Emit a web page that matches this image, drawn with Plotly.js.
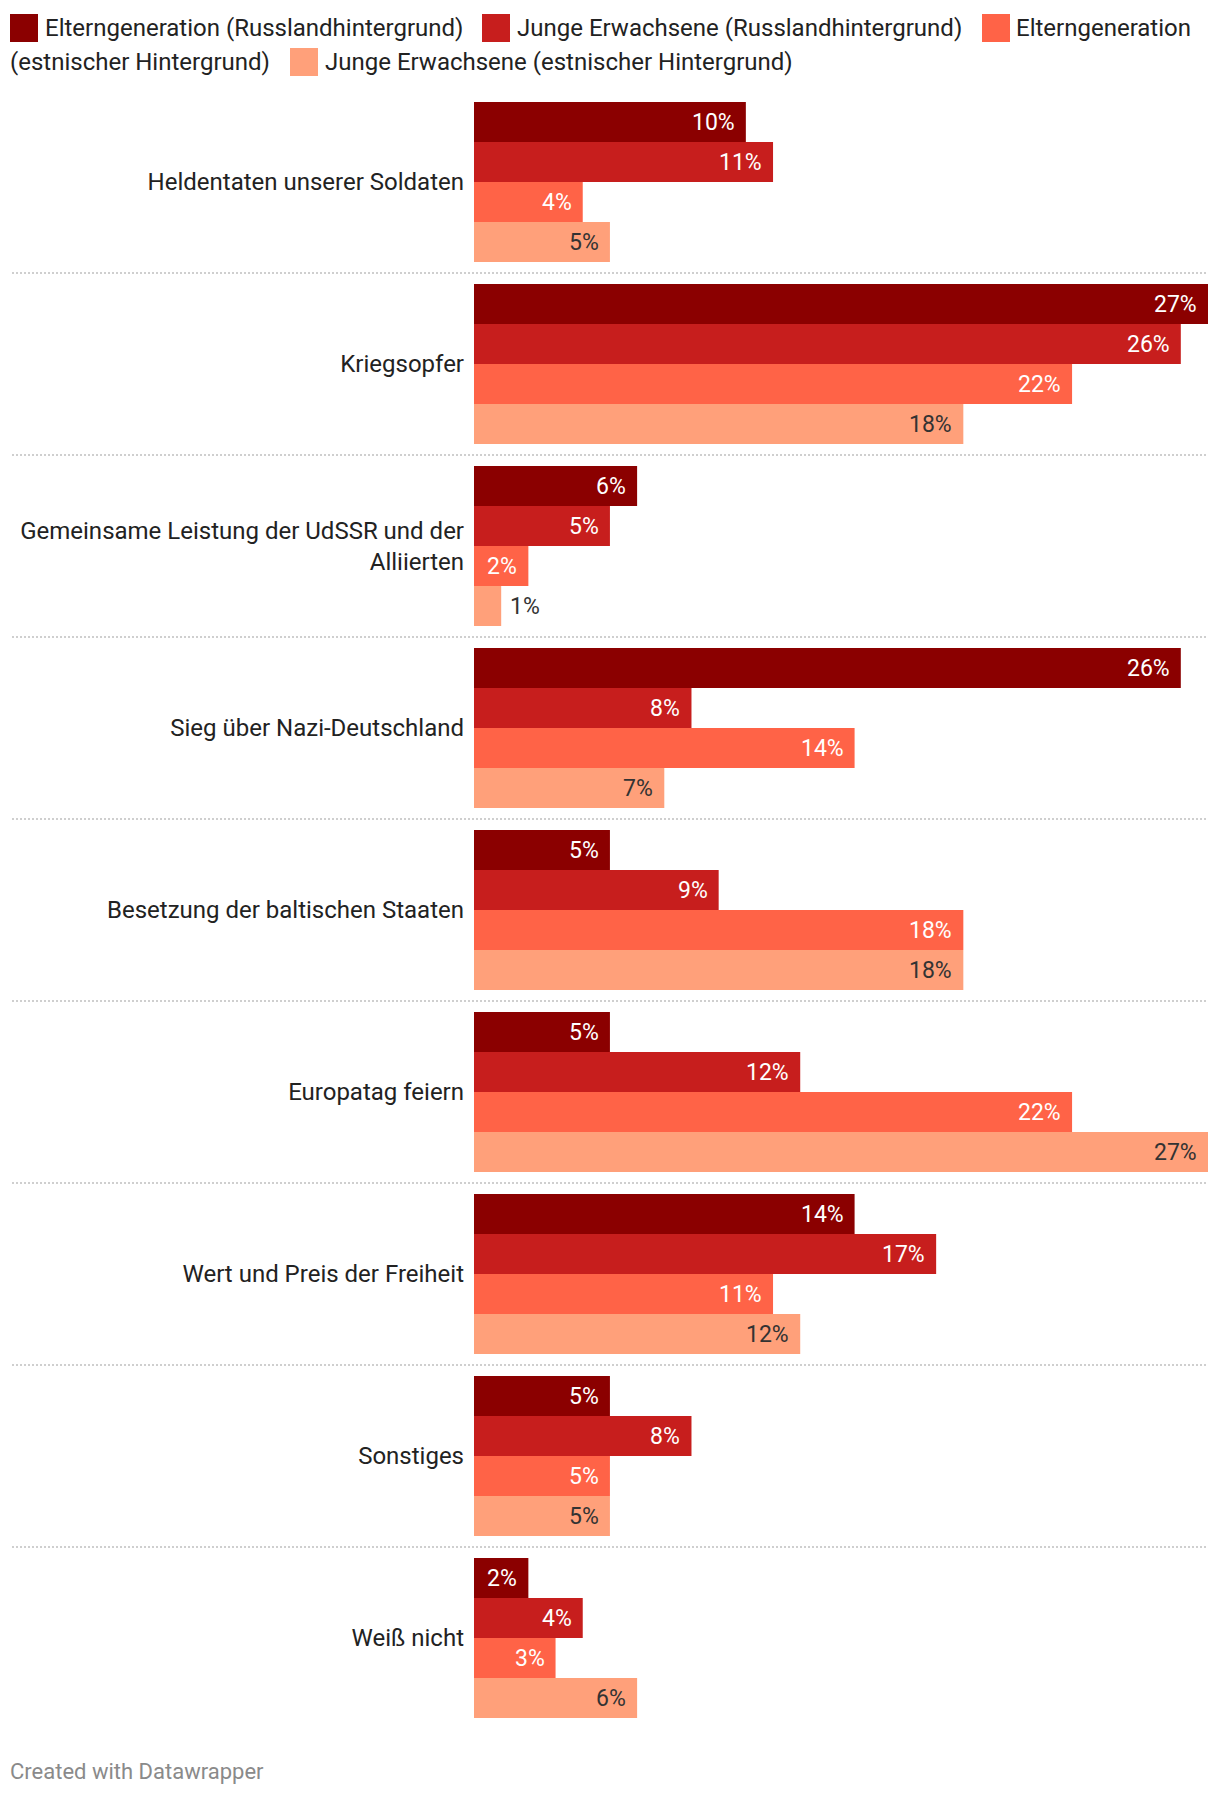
<!DOCTYPE html>
<html>
<head>
<meta charset="utf-8">
<script src="https://cdn.plot.ly/plotly-3.0.1.min.js"></script>
<style>
  html, body { margin: 0; padding: 0; background: #fff; }
  #chart { width: 1220px; height: 1796px; }
</style>
</head>
<body>
<div id="chart"></div>
<script>
// ---------- DATA ----------
const categories = [
  "Heldentaten unserer Soldaten",
  "Kriegsopfer",
  "Gemeinsame Leistung der UdSSR und der<br>Alliierten",
  "Sieg über Nazi-Deutschland",
  "Besetzung der baltischen Staaten",
  "Europatag feiern",
  "Wert und Preis der Freiheit",
  "Sonstiges",
  "Weiß nicht"
];
const seriesNames = [
  "Elterngeneration (Russlandhintergrund)",
  "Junge Erwachsene (Russlandhintergrund)",
  "Elterngeneration (estnischer Hintergrund)",
  "Junge Erwachsene (estnischer Hintergrund)"
];
const parentsRussian = [10, 27, 6, 26, 5, 5, 14, 5, 2];
const youngRussian   = [11, 26, 5, 8, 9, 12, 17, 8, 4];
const parentsEstonian = [4, 22, 2, 14, 18, 22, 11, 5, 3];
const youngEstonian   = [5, 18, 1, 7, 18, 27, 12, 5, 6];
const footerText = "Created with Datawrapper";

// ---------- STYLE ----------
const colors = ["#8b0000", "#c71e1d", "#ff6347", "#ffa07a"];
const labelColors = ["#ffffff", "#ffffff", "#ffffff", "#333333"];
const seriesValues = [parentsRussian, youngRussian, parentsEstonian, youngEstonian];
const FONT = "Roboto, 'Noto Sans', sans-serif";

const W = 1220, H = 1796;
const L = 474, R = 1208, T = 91, B = 1729;
const px2x = p => (p - L) / (R - L);
const px2y = p => (B - p) / (B - T);
const bargap = 22 / 182;
const nS = seriesValues.length;
const barW = (1 - bargap) / nS;
const xMax = 27;
const pxPerUnit = (R - L) / xMax;

const traces = seriesValues.map((vals, s) => ({
  type: "bar",
  orientation: "h",
  name: seriesNames[s],
  x: vals,
  y: categories,
  marker: { color: colors[s], line: { width: 0 } },
  hoverinfo: "none",
  showlegend: false
}));

const annotations = [];
const shapes = [];

// value labels
seriesValues.forEach((vals, s) => {
  vals.forEach((v, c) => {
    const yPos = c + barW * (s - (nS - 1) / 2);
    const text = v + "%";
    const estW = text.length * 12 + 6;
    const inside = v * pxPerUnit > estW + 20;
    annotations.push({
      x: v, y: yPos, xref: "x", yref: "y",
      text: text,
      showarrow: false,
      xanchor: inside ? "right" : "left",
      yanchor: "middle",
      xshift: inside ? -11 : 9,
      borderpad: 0, borderwidth: 0,
      font: { family: FONT, size: 23, color: inside ? labelColors[s] : "#333333" }
    });
  });
});

// separators
for (let i = 0; i < categories.length - 1; i++) {
  shapes.push({
    type: "line", xref: "paper", yref: "y",
    x0: px2x(12), x1: 1, y0: i + 0.5, y1: i + 0.5,
    line: { color: "#cfcfcf", width: 2, dash: "2px,2px" }
  });
}

// custom legend (wrapping like the original)
const legendItems = [
  { s: 0, sx: 10, tx: 45, cy: 28, text: seriesNames[0] },
  { s: 1, sx: 482, tx: 517, cy: 28, text: seriesNames[1] },
  { s: 2, sx: 982, tx: 1016, cy: 28, text: seriesNames[2].split(" (")[0] },
  { s: -1, sx: null, tx: 10, cy: 62, text: "(" + seriesNames[2].split(" (")[1] },
  { s: 3, sx: 290, tx: 325, cy: 62, text: seriesNames[3] }
];
legendItems.forEach(it => {
  if (it.s >= 0) {
    shapes.push({
      type: "rect", xref: "paper", yref: "paper",
      x0: px2x(it.sx), x1: px2x(it.sx + 28),
      y0: px2y(it.cy - 14), y1: px2y(it.cy + 14),
      fillcolor: colors[it.s], line: { width: 0 }
    });
  }
  annotations.push({
    x: px2x(it.tx), y: px2y(it.cy), xref: "paper", yref: "paper",
    text: it.text, showarrow: false, xanchor: "left", yanchor: "middle",
    borderpad: 0, borderwidth: 0,
    font: { family: FONT, size: 24, color: "#222222" }
  });
});

// footer
annotations.push({
  x: px2x(10), y: px2y(1772), xref: "paper", yref: "paper",
  text: footerText, showarrow: false, xanchor: "left", yanchor: "middle",
  borderpad: 0, borderwidth: 0,
  font: { family: FONT, size: 22, color: "#8a8a8a" }
});

const layout = {
  width: W, height: H,
  margin: { l: L, r: W - R, t: T, b: H - B, pad: 0 },
  paper_bgcolor: "#ffffff",
  plot_bgcolor: "#ffffff",
  barmode: "group",
  bargap: bargap,
  bargroupgap: 0,
  showlegend: false,
  font: { family: FONT, color: "#222222" },
  xaxis: {
    range: [0, xMax], showgrid: false, zeroline: false,
    showticklabels: false, ticks: "", showline: false, fixedrange: true
  },
  yaxis: {
    type: "category", autorange: "reversed",
    showgrid: false, zeroline: false, showline: false,
    ticks: "", ticklabelstandoff: 9,
    tickfont: { family: FONT, size: 24, color: "#222222" },
    fixedrange: true
  },
  shapes: shapes,
  annotations: annotations
};

Plotly.newPlot("chart", traces, layout, { displayModeBar: false, staticPlot: true });
</script>
</body>
</html>
